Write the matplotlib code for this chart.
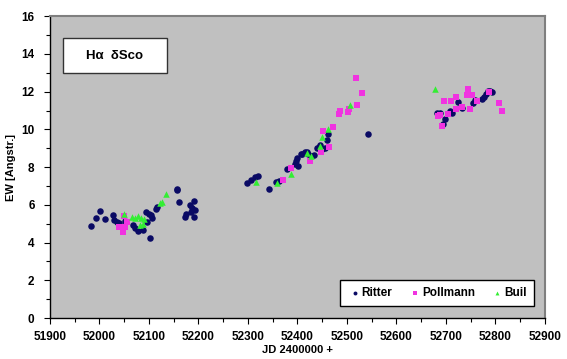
import matplotlib
matplotlib.use("Agg")
import matplotlib.pyplot as plt
from matplotlib.ticker import MultipleLocator
from matplotlib.patches import Rectangle

plt.rcParams['font.family'] = ['Liberation Sans', 'DejaVu Sans']

ritter_x = [51984, 51993, 52002, 52011, 52028, 52029, 52035, 52040, 52052, 52068,
            52072, 52077, 52088, 52095, 52097, 52100, 52102, 52105, 52106, 52114,
            52117, 52156, 52157, 52161, 52173, 52175, 52183, 52185, 52188, 52192,
            52192, 52193,
            52299, 52307, 52314, 52321, 52343, 52356, 52363, 52380, 52395, 52398,
            52400, 52402, 52408, 52410, 52415, 52419, 52422, 52428, 52434, 52439,
            52443, 52445, 52450, 52455, 52459, 52462, 52542,
            52683, 52688, 52695, 52698, 52708, 52713, 52725, 52732, 52755, 52759,
            52772, 52778, 52781, 52785, 52789, 52794]
ritter_y = [4.87, 5.32, 5.66, 5.25, 5.47, 5.18, 5.08, 5.04, 5.15, 4.93,
            4.76, 4.64, 4.66, 5.61, 5.10, 5.53, 4.22, 5.45, 5.30, 5.80,
            5.87, 6.85, 6.78, 6.14, 5.37, 5.53, 6.00, 5.63, 5.85, 6.18,
            5.33, 5.75,
            7.17, 7.31, 7.48, 7.52, 6.82, 7.19, 7.28, 7.88, 8.15, 8.35,
            8.50, 8.08, 8.72, 8.68, 8.82, 8.80, 8.72, 8.60, 8.64, 8.99,
            9.05, 9.17, 8.95, 9.00, 9.43, 9.75, 9.75,
            10.85, 10.88, 10.30, 10.55, 10.95, 10.88, 11.45, 11.15, 11.40, 11.55,
            11.62, 11.73, 11.88, 12.02, 12.02, 11.97]

pollmann_x = [52040, 52047, 52049, 52052, 52055,
              52371, 52387, 52425, 52448, 52451, 52463, 52472, 52484, 52486,
              52503, 52505, 52519, 52521, 52531,
              52685, 52689, 52692, 52696, 52705, 52711, 52720, 52721, 52733,
              52743, 52745, 52749, 52752, 52763, 52787, 52807, 52814]
pollmann_y = [4.80, 4.54, 5.40, 4.84, 5.10,
              7.32, 7.97, 8.32, 8.80, 9.91, 9.08, 10.10, 10.83, 10.97,
              10.92, 11.06, 12.70, 11.30, 11.92,
              10.69, 10.75, 10.18, 11.50, 10.83, 11.50, 11.10, 11.70, 11.18,
              11.82, 12.12, 11.10, 11.82, 11.50, 12.00, 11.41, 11.00]

buil_x = [52049, 52065, 52072, 52078, 52082, 52085, 52088, 52090, 52122, 52126,
          52134, 52316, 52358, 52387, 52420, 52427, 52445, 52449, 52462, 52506,
          52678]
buil_y = [5.50, 5.35, 5.30, 5.40, 4.95, 5.30, 5.00, 5.25, 6.10, 6.16,
          6.60, 7.22, 7.15, 7.65, 8.75, 8.60, 9.10, 9.60, 10.00, 11.30,
          12.13]

x_ticks = list(range(51900, 53000, 100))
y_ticks = list(range(0, 17, 2))

fig = plt.figure(figsize=(5.67, 3.59), dpi=100)
ax = fig.add_axes([0.088, 0.114, 0.873, 0.841])
ax.set_facecolor('#C0C0C0')

ax.scatter(ritter_x, ritter_y, s=22, marker='o', color='#0A0A64', label='Ritter', zorder=3, linewidths=0)
ax.scatter(pollmann_x, pollmann_y, s=20, marker='s', color='#F033E0', label='Pollmann', zorder=4, linewidths=0)
ax.scatter(buil_x, buil_y, s=22, marker='^', color='#33EE33', label='Buil', zorder=5, linewidths=0)

ax.set_xlim(51900, 52900)
ax.set_ylim(0, 16)
ax.set_xticks(x_ticks)
ax.set_yticks(y_ticks)
ax.xaxis.set_minor_locator(MultipleLocator(50))
ax.yaxis.set_minor_locator(MultipleLocator(1))
ax.tick_params(which='major', direction='out', length=4, width=0.8, labelsize=8.5)
ax.tick_params(axis='y', which='major', pad=7)
ax.tick_params(axis='x', which='major', pad=5)
ax.tick_params(which='minor', direction='out', length=3, width=0.8)
for lab in ax.get_xticklabels() + ax.get_yticklabels():
    lab.set_fontweight('bold')

for s in ['left', 'bottom']:
    ax.spines[s].set_color('#000000')
    ax.spines[s].set_linewidth(1.0)
for s in ['top', 'right']:
    ax.spines[s].set_color('#7F7F7F')
    ax.spines[s].set_linewidth(1.5)

ax.set_xlabel('JD 2400000 +', fontsize=8, fontweight='bold', labelpad=2)
ax.set_ylabel('EW [Angstr.]', fontsize=8, fontweight='bold', labelpad=4)

# title box
ax.add_patch(Rectangle((51926, 12.98), 210, 1.85, facecolor='white', edgecolor='#333333',
                       linewidth=1.0, zorder=6))
ax.text(52031, 13.9, 'H\u03b1  \u03b4Sco', ha='center', va='center', fontsize=9.5,
        fontweight='bold', zorder=7)

leg = ax.legend(loc='lower right', ncol=3, prop={'weight': 'bold', 'size': 8.5},
                frameon=True, fancybox=False, edgecolor='black', facecolor='white',
                framealpha=1, handletextpad=0.0, columnspacing=1.3, markerscale=0.6,
                handlelength=1.2, borderpad=0.6, bbox_to_anchor=(0.99, 0.02))
leg.get_frame().set_linewidth(1.0)

fig.savefig('out.png', dpi=100)
